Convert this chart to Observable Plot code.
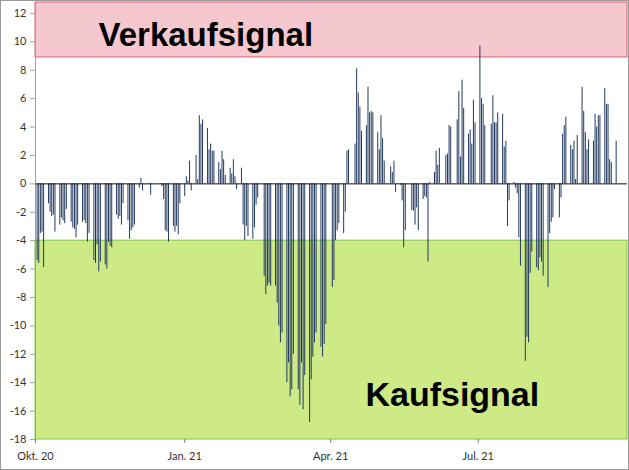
<!DOCTYPE html>
<html>
<head>
<meta charset="utf-8">
<script src="https://cdn.jsdelivr.net/npm/d3@7"></script>
<script src="https://cdn.jsdelivr.net/npm/@observablehq/plot@0.6"></script>
<style>
  html, body { margin: 0; padding: 0; background: #fff; }
  #wrap { position: relative; width: 629px; height: 470px; }
  #border { position: absolute; left: 0; top: 0; width: 627px; height: 468px; border: 1px solid #9a9a9a; pointer-events: none; }
</style>
</head>
<body>
<div id="wrap"><div id="chart"></div><div id="border"></div></div>
<script>
// Weekly blocks of daily values (Mon..Fri), first week starts Mon 5 Oct 2020
const firstMonday = "2020-10-05";
const weekValues = [
  [-5.4, -5.6, -3.5, -3.4, -5.9],
  [-1.4, -2.0, -2.3, -2.2, -3.4],
  [-2.9, -2.4, -2.6, -2.8, -1.8],
  [-2.7, -3.1, -3.2, -3.8, -2.9],
  [-2.7, -2.6, -2.8, -4.1, -3.5],
  [-5.4, -5.6, -4.3, -6.2, -5.5],
  [-5.7, -6.0, -4.1, -4.4, -4.5],
  [-2.2, -2.5, -2.3, -2.9, -1.4],
  [-2.6, -3.9, -3.3, -3.1, -2.9],
  [-0.3, 0.4, -0.5, null, null],
  [-0.8, null, null, null, null],
  [-0.2, -1.1, -3.3, -3.4, -4.1],
  [-3.0, -3.4, -3.0, -3.6, -1.4],
  [-0.9, 0.5, 0.2, 1.6, -0.5],
  [2.0, 0.3, 4.8, 4.2, 4.5],
  [3.9, 2.4, 2.8, 2.3, 2.3],
  [1.5, 1.0, 2.3, 1.7, 0.6],
  [1.1, 0.7, 1.7, 0.5, -0.4],
  [1.1, -2.9, -4.0, -3.0, -3.7],
  [-3.9, -3.1, -1.5, -1.0, null],
  [-6.5, -7.8, -7.2, -7.0, -7.2],
  [-7.2, -8.4, -10.0, -11.2, -10.5],
  [-14.0, -12.6, -15.0, -14.5, -12.0],
  [-14.5, -15.6, -12.6, -15.9, -13.5],
  [-16.8, -13.8, -12.2, -11.2, -10.5],
  [-11.5, -12.2, -11.3, -9.9, null],
  [-7.3, -6.8, -4.0, -3.3, -2.8],
  [-3.5, -2.0, 2.3, 2.4, null],
  [2.8, 8.1, 6.4, 5.4, 3.7],
  [4.1, 6.8, 5.0, 5.1, 5.0],
  [3.6, 2.4, 4.8, 3.2, 1.6],
  [null, 1.2, 0.8, 1.6, -0.6],
  [-0.1, -1.2, -4.5, -3.3, null],
  [-1.9, -1.9, -2.9, -1.7, -3.3],
  [-1.1, -0.9, -1.0, -5.5, 0.1],
  [0.8, 2.3, 1.3, 2.5, null],
  [2.0, 2.1, 4.1, 4.0, null],
  [4.5, 6.5, 1.9, 7.3, 5.3],
  [3.5, 3.8, 2.8, 5.9, 4.3],
  [9.7, 6.0, 5.6, 4.1, null],
  [4.2, 6.2, 4.3, 4.3, 5.0],
  [4.9, 2.6, 3.0, -3.0, -1.2],
  [0.1, -0.3, -0.7, -3.8, -5.8],
  [-12.5, -10.8, -11.2, -6.3, -4.8],
  [-5.9, -6.1, -5.2, -5.5, -6.5],
  [-7.3, -3.5, -2.7, -2.4, -0.4],
  [-2.4, -1.0, 3.5, 4.1, 4.7],
  [2.7, 2.4, 3.0, 0.3, 3.4],
  [6.8, 5.1, 3.6, 2.4, 3.1],
  [3.0, 4.9, 4.0, 4.8, 4.8],
  [6.7, 5.6, 5.6, 1.7, 1.5],
  [3.0]
];

const xDomain = ["2020-10-04", "2021-10-04"];
const xTicks = ["2020-10-04", "2021-01-04", "2021-04-04", "2021-07-04"];
const xTickLabels = ["Okt. 20", "Jan. 21", "Apr. 21", "Jul. 21"];
const yDomain = [-18, 12.77];
const yTicks = [-18, -16, -14, -12, -10, -8, -6, -4, -2, 0, 2, 4, 6, 8, 10, 12];

const sellZone = [8.9, 12.77];   // Verkaufsignal band
const buyZone = [-18, -4];       // Kaufsignal band
const sellLabel = "Verkaufsignal";
const buyLabel = "Kaufsignal";

// build table
const parse = d3.utcParse("%Y-%m-%d");
const monday0 = parse(firstMonday);
const rows = [];
weekValues.forEach((wk, k) => {
  wk.forEach((v, j) => {
    if (v !== null) rows.push({date: d3.utcDay.offset(monday0, 7 * k + j), value: v});
  });
});
const x0 = parse(xDomain[0]), x1 = parse(xDomain[1]);
const tickDates = xTicks.map(parse);

const chart = Plot.plot({
  width: 629,
  height: 470,
  marginLeft: 35,
  marginRight: 2,
  marginTop: 2,
  marginBottom: 31,
  x: {type: "utc", domain: [x0, x1]},
  y: {domain: yDomain},
  style: {fontFamily: "Lato, 'Open Sans', sans-serif", fontSize: "11px", color: "#333", background: "transparent", overflow: "visible"},
  marks: [
    Plot.rect([sellZone], {x1: () => x0, x2: () => x1, y1: d => d[0], y2: d => d[1], fill: "#f5c8d0", stroke: "#d9606c", strokeWidth: 1}),
    Plot.rect([buyZone], {x1: () => x0, x2: () => x1, y1: d => d[0], y2: d => d[1], fill: "#cdea86", stroke: "#80c44c", strokeWidth: 1}),
    Plot.ruleX(rows, {x: "date", y1: 0, y2: "value", stroke: "#22395f", strokeWidth: 1}),
    Plot.ruleY([0], {stroke: "#111", strokeWidth: 1}),
    Plot.ruleX([x0], {stroke: "#a0a0a0"}),
    Plot.axisY({ticks: yTicks, tickFormat: d => String(d), tickSize: 5, tickPadding: 4, label: null, stroke: "#a0a0a0", fill: "#333"}),
    Plot.axisX({ticks: tickDates, tickFormat: (d, i) => xTickLabels[i], tickSize: 4, tickPadding: 9, label: null, stroke: "#808080", fill: "#333"}),
    Plot.text([sellLabel], {x: () => d3.utcDay.offset(x0, 105), y: () => 10.46, text: d => d, fontFamily: "'Liberation Sans', Arial, sans-serif", fontWeight: "bold", fontSize: 33, fill: "#000"}),
    Plot.text([buyLabel], {x: () => d3.utcDay.offset(x0, 257), y: () => -14.86, text: d => d, fontFamily: "'Liberation Sans', Arial, sans-serif", fontWeight: "bold", fontSize: 34, fill: "#000"})
  ]
});
document.getElementById("chart").appendChild(chart);
</script>
</body>
</html>
